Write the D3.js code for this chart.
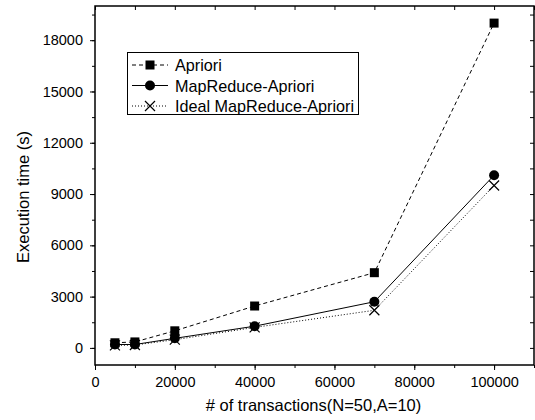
<!DOCTYPE html>
<html>
<head>
<meta charset="utf-8">
<script src="https://cdn.jsdelivr.net/npm/d3@7"></script>
<style>
  body { margin: 0; background: #fff; }
  svg { font-family: "Liberation Sans", Arial, sans-serif; }
</style>
</head>
<body>
<script>
(function() {

    // data
    var transactions = [5000, 10000, 20000, 40000, 70000, 100000];
    var apriori = [300, 350, 1000, 2450, 4400, 19000];
    var mapReduce = [200, 200, 560, 1270, 2700, 10100];
    var idealMapReduce = [150, 170, 480, 1200, 2200, 9500];
    var xTicks = [0, 20000, 40000, 60000, 80000, 100000];
    var yTicks = [0, 3000, 6000, 9000, 12000, 15000, 18000];

    var series = [
        { name: 'Apriori', values: apriori, dash: '4,3', marker: 'square' },
        { name: 'MapReduce-Apriori', values: mapReduce, dash: null, marker: 'circle' },
        { name: 'Ideal MapReduce-Apriori', values: idealMapReduce, dash: '1,2', marker: 'cross' }
    ];

    var W = 535, H = 420;
    var left = 95, right = 534, top = 6, bottom = 365;
    var font = 'Liberation Sans, Arial, sans-serif';

    var svg = d3.select('body').append('svg')
        .attr('width', W)
        .attr('height', H);

    var x = d3.scaleLinear().domain([0, 110000]).range([left, right]);
    var y = d3.scaleLinear().domain([-1000, 20000]).range([bottom, top]);

    var minorX = d3.range(0, 110001, 10000);
    var minorY = d3.range(0, 20000, 1500);

    // bottom axis
    svg.append('g')
        .attr('transform', 'translate(0,' + bottom + ')')
        .call(d3.axisBottom(x).tickValues(minorX).tickSize(3).tickFormat(''))
        .call(function(g) { g.select('.domain').remove(); });
    svg.append('g')
        .attr('transform', 'translate(0,' + bottom + ')')
        .call(d3.axisBottom(x).tickValues(xTicks).tickSize(5).tickPadding(7).tickFormat(d3.format('d')))
        .call(function(g) { g.select('.domain').remove(); g.selectAll('text').attr('font-size', 14.5).attr('font-family', font); });

    // left axis
    svg.append('g')
        .attr('transform', 'translate(' + left + ',0)')
        .call(d3.axisLeft(y).tickValues(minorY).tickSize(3).tickFormat(''))
        .call(function(g) { g.select('.domain').remove(); });
    svg.append('g')
        .attr('transform', 'translate(' + left + ',0)')
        .call(d3.axisLeft(y).tickValues(yTicks).tickSize(5).tickPadding(7).tickFormat(d3.format('d')))
        .call(function(g) { g.select('.domain').remove(); g.selectAll('text').attr('font-size', 14.5).attr('font-family', font); });

    // top axis (ticks inward)
    svg.append('g')
        .attr('transform', 'translate(0,' + top + ')')
        .call(d3.axisBottom(x).tickValues(minorX).tickSize(4).tickFormat(''))
        .call(function(g) { g.select('.domain').remove(); });

    // right axis (ticks inward)
    svg.append('g')
        .attr('transform', 'translate(' + right + ',0)')
        .call(d3.axisLeft(y).tickValues(minorY).tickSize(4).tickFormat(''))
        .call(function(g) { g.select('.domain').remove(); });

    // frame
    svg.append('rect')
        .attr('x', left).attr('y', top)
        .attr('width', right - left).attr('height', bottom - top)
        .attr('fill', 'none').attr('stroke', '#000').attr('stroke-width', 1.5);

    var line = d3.line()
        .x(function(d) { return x(d[0]); })
        .y(function(d) { return y(d[1]); });

    function drawMarker(g, type, cx, cy) {
        if (type === 'square') {
            g.append('rect').attr('x', cx - 4.5).attr('y', cy - 4.5)
                .attr('width', 9).attr('height', 9).attr('fill', '#000');
        } else if (type === 'circle') {
            g.append('circle').attr('cx', cx).attr('cy', cy).attr('r', 5).attr('fill', '#000');
        } else {
            g.append('path')
                .attr('d', 'M' + (cx - 5) + ',' + (cy - 5) + 'L' + (cx + 5) + ',' + (cy + 5) +
                    'M' + (cx - 5) + ',' + (cy + 5) + 'L' + (cx + 5) + ',' + (cy - 5))
                .attr('stroke', '#000').attr('stroke-width', 1.2).attr('fill', 'none');
        }
    }

    series.forEach(function(s) {
        var pts = transactions.map(function(t, i) { return [t, s.values[i]]; });
        svg.append('path')
            .datum(pts)
            .attr('d', line)
            .attr('fill', 'none')
            .attr('stroke', '#000')
            .attr('stroke-width', 1)
            .attr('stroke-dasharray', s.dash);
        var g = svg.append('g');
        pts.forEach(function(p) { drawMarker(g, s.marker, x(p[0]), y(p[1])); });
    });

    // legend
    var lg = svg.append('g');
    lg.append('rect')
        .attr('x', 127.5).attr('y', 52.5).attr('width', 231).attr('height', 62)
        .attr('fill', '#fff').attr('stroke', '#000').attr('stroke-width', 1);
    series.forEach(function(s, i) {
        var ly = 65 + i * 20.5;
        lg.append('line')
            .attr('x1', 132).attr('x2', 168).attr('y1', ly).attr('y2', ly)
            .attr('stroke', '#000').attr('stroke-width', 1)
            .attr('stroke-dasharray', s.dash);
        drawMarker(lg, s.marker, 150, ly);
        lg.append('text')
            .attr('x', 175).attr('y', ly + 6)
            .attr('font-size', 16.2)
            .text(s.name);
    });

    // axis titles
    svg.append('text')
        .attr('x', (left + right) / 2 - 1).attr('y', 411)
        .attr('text-anchor', 'middle')
        .attr('font-size', 16.5)
        .text('# of transactions(N=50,A=10)');

    svg.append('text')
        .attr('transform', 'translate(29,' + 197 + ') rotate(-90)')
        .attr('text-anchor', 'middle')
        .attr('font-size', 16.5)
        .text('Execution time (s)');

})();
</script>
</body>
</html>
